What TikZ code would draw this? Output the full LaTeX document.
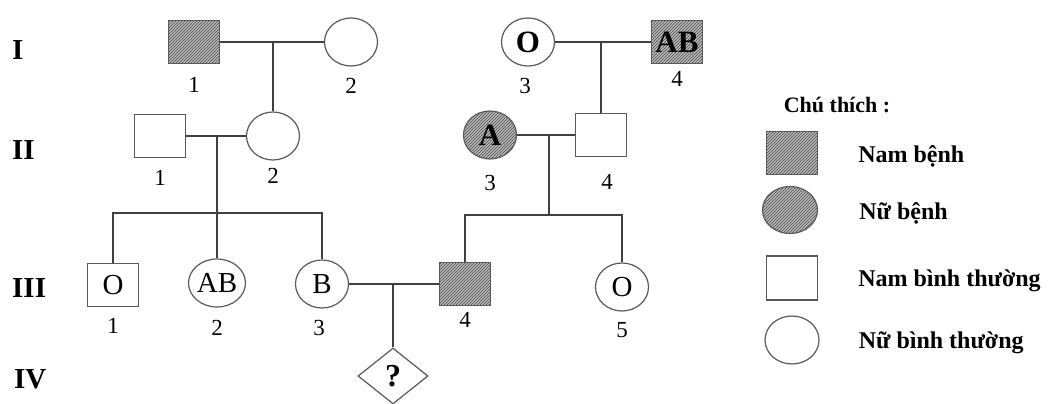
\documentclass[tikz,border=0pt]{standalone}
\usepackage{fontspec}
\setmainfont{Liberation Serif}
\usetikzlibrary{shapes.geometric,positioning,patterns}
\tikzset{
  basic/.style   = {draw=black!65, line width=1.2pt, inner sep=0pt},
  male/.style    = {basic, rectangle, minimum width=51pt, minimum height=43pt},
  female/.style  = {basic, ellipse, minimum width=53pt, minimum height=48pt},
  sick/.style    = {preaction={fill=gray!55}, pattern=north east lines, pattern color=black!70},
  unknown/.style = {basic, diamond, minimum width=70pt, minimum height=56pt, font=\bfseries\fontsize{32}{32}\selectfont},
  inbold/.style  = {font=\bfseries\fontsize{31}{31}\selectfont},
  inreg/.style   = {font=\fontsize{29}{29}\selectfont},
  idnum/.style   = {inner sep=0pt, font=\fontsize{23}{23}\selectfont},
  gen/.style     = {inner sep=0pt, anchor=west, font=\bfseries\fontsize{29}{29}\selectfont},
  legtext/.style = {inner sep=0pt, font=\bfseries\fontsize{24}{24}\selectfont},
  pedline/.style = {draw=black!75, line width=1.5pt}
}
\begin{document}
\begin{tikzpicture}[x=1pt, y=-1pt]
\useasboundingbox (0,0) rectangle (1053,404);

% generation labels
\node[gen] (gI)   at (12,50)  {I};
\node[gen] (gII)  at (12,150) {II};
\node[gen] (gIII) at (12,288) {III};
\node[gen] (gIV)  at (14,379) {IV};

% generation I
\node[male, sick] (i1) at (194,42) {};
\node[female] (i2) at (351,42) {};
\node[female, inbold] (i3) at (528,42) {O};
\node[male, sick, inbold] (i4) at (677,42) {AB};

% generation II
\node[male] (ii1) at (160,136) {};
\node[female] (ii2) at (273,136) {};
\node[female, sick, inbold] (ii3) at (490,135) {A};
\node[male] (ii4) at (601,135) {};

% generation III
\node[male, inreg] (iii1) at (113,285) {O};
\node[female, inreg] (iii2) at (217,283) {AB};
\node[female, inreg] (iii3) at (322,284) {B};
\node[male, sick] (iii4) at (465,284) {};
\node[female, inreg] (iii5) at (622,287) {O};

% generation IV
\node[unknown] (iv1) at (393,376) {?};

% numbers below the individuals
\node[idnum, below=13pt of i1] (n-i1) {1};
\node[idnum, below=11pt of i2] (n-i2) {2};
\node[idnum, below=11pt of i3, xshift=-3pt] (n-i3) {3};
\node[idnum, below=7pt of i4] (n-i4) {4};
\node[idnum, below=12pt of ii1] (n-ii1) {1};
\node[idnum, below=7pt of ii2] (n-ii2) {2};
\node[idnum, below=15pt of ii3] (n-ii3) {3};
\node[idnum, below=17pt of ii4, xshift=6pt] (n-ii4) {4};
\node[idnum, below=11pt of iii1] (n-iii1) {1};
\node[idnum, below=12pt of iii2] (n-iii2) {2};
\node[idnum, below=11pt of iii3, xshift=-3pt] (n-iii3) {3};
\node[idnum, below=6pt of iii4] (n-iii4) {4};
\node[idnum, below=11pt of iii5] (n-iii5) {5};

% marriages and descent lines
\draw[pedline] (i1) -- (i2);
\coordinate (m1) at (ii2 |- i1);
\draw[pedline] (m1) -- (ii2);

\draw[pedline] (i3) -- (i4);
\coordinate (m2) at (ii4 |- i3);
\draw[pedline] (m2) -- (ii4);

\draw[pedline] (ii1) -- (ii2);
\coordinate (m3) at (iii2 |- ii1);
\coordinate (s1) at (217,213);
\draw[pedline] (m3) -- (s1) -- (iii2);
\draw[pedline] (iii1) |- (s1) -| (iii3);

\draw[pedline] (ii3) -- (ii4);
\coordinate (m4) at (549,135);
\coordinate (s2) at (549,215);
\draw[pedline] (m4) -- (s2);
\draw[pedline] (iii4) |- (s2) -| (iii5);

\draw[pedline] (iii3) -- (iii4);
\coordinate (m5) at (iv1 |- iii3);
\draw[pedline] (m5) -- (iv1);

% legend
\node[inner sep=0pt, font=\bfseries\fontsize{22}{22}\selectfont] (lgtitle) at (837,105) {Chú thích :};
\node[male, sick] (lg1) at (792,153) {};
\node[female, sick, minimum width=55pt, minimum height=47pt] (lg2) at (790,210) {};
\node[male, minimum height=44pt] (lg3) at (792,278) {};
\node[female, minimum width=54pt] (lg4) at (792,340) {};
\node[legtext, right=40pt of lg1, yshift=-3pt] (lt1) {Nam bệnh};
\node[legtext, right=41pt of lg2, yshift=-3pt] (lt2) {Nữ bệnh};
\node[legtext, right=40pt of lg3, yshift=-3pt] (lt3) {Nam bình thường};
\node[legtext, right=39pt of lg4, yshift=-3pt] (lt4) {Nữ bình thường};
\end{tikzpicture}
\end{document}
